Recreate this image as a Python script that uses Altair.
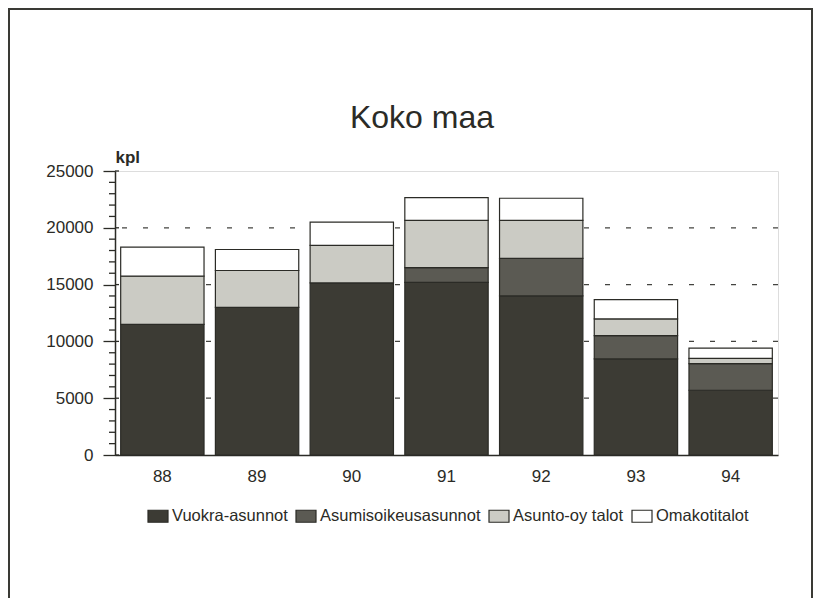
import altair as alt
import pandas as pd

years = ["88", "89", "90", "91", "92", "93", "94"]
series = ["Vuokra-asunnot", "Asumisoikeusasunnot", "Asunto-oy talot", "Omakotitalot"]
vuokra = [11500, 13000, 15150, 15200, 14000, 8470, 5700]
asumis = [0, 0, 0, 1300, 3300, 2030, 2350]
asunto = [4240, 3240, 3300, 4150, 3350, 1480, 450]
omakoti = [2560, 1850, 2050, 2000, 1950, 1700, 900]
colors = ["#3c3b34", "#5b5a53", "#cbcbc4", "#ffffff"]
title_text = ["Koko maa"]

grid_values = [5000, 10000, 15000, 20000]
major_values = [0, 5000, 10000, 15000, 20000, 25000]
minor_values = [v for v in range(1000, 25000, 1000) if v % 5000 != 0]

FONT = "Liberation Sans"
INK = "#2b2b26"

rows = []
for si, (name, vals) in enumerate(zip(series, [vuokra, asumis, asunto, omakoti])):
    for y, v in zip(years, vals):
        if v > 0:
            rows.append({"vuosi": y, "sarja": name, "kpl": v, "jarj": si})
df = pd.DataFrame(rows)

yscale = alt.Scale(domain=[0, 25000], nice=False, zero=True)

bars = alt.Chart(df).mark_bar(stroke=INK, strokeWidth=1.2).encode(
    x=alt.X("vuosi:N", sort=years,
            scale=alt.Scale(paddingInner=0.12, paddingOuter=0.06),
            axis=alt.Axis(title=None, labelAngle=0, ticks=False, tickSize=0,
                          labelPadding=13, labelFontSize=17, labelFont=FONT,
                          labelColor=INK, domainColor=INK, domainWidth=1.5)),
    y=alt.Y("kpl:Q", stack="zero", scale=yscale,
            axis=alt.Axis(values=major_values, title="kpl", titleAngle=0,
                          titleAlign="left", titleBaseline="alphabetic",
                          titleX=0, titleY=-9, titleFont=FONT, titleFontSize=17,
                          titleFontWeight="bold", titleColor=INK,
                          grid=False, tickSize=12, tickColor=INK, tickWidth=1.3,
                          labelPadding=10, labelFontSize=17, labelFont=FONT,
                          labelColor=INK, domainColor=INK, domainWidth=1.5,
                          format="d")),
    color=alt.Color("sarja:N", scale=alt.Scale(domain=series, range=colors),
                    legend=alt.Legend(title=None, orient="none", legendX=32, legendY=334,
                                      direction="horizontal",
                                      symbolType="M-1,-0.6H1V0.6H-1Z", symbolSize=400,
                                      symbolStrokeColor=INK, symbolStrokeWidth=1.2,
                                      labelFont=FONT, labelFontSize=16.5, labelColor=INK,
                                      labelLimit=400, labelOffset=3, columnPadding=5)),
    order=alt.Order("jarj:Q", sort="ascending"),
)

grid = alt.Chart(pd.DataFrame({"kpl": grid_values})).mark_rule(
    color="#444440", strokeDash=[5, 16], strokeWidth=1.3
).encode(y=alt.Y("kpl:Q", scale=yscale))

minor = alt.Chart(pd.DataFrame({"kpl": minor_values})).mark_rule(
    color=INK, strokeWidth=1.3
).encode(y=alt.Y("kpl:Q", scale=yscale), x=alt.value(-6), x2=alt.value(0))

major_in = alt.Chart(pd.DataFrame({"kpl": major_values})).mark_rule(
    color=INK, strokeWidth=1.3
).encode(y=alt.Y("kpl:Q", scale=yscale), x=alt.value(0), x2=alt.value(4))

frame = alt.Chart(pd.DataFrame({"a": [0]})).mark_rect(
    fillOpacity=0, stroke="#3a3a35", strokeWidth=2
).encode(x=alt.value(-106), x2=alt.value(697), y=alt.value(-162), y2=alt.value(470))

title = alt.Chart(pd.DataFrame({"t": title_text})).mark_text(
    font=FONT, fontSize=32, color=INK, align="center", baseline="alphabetic"
).encode(text="t:N", x=alt.value(307), y=alt.value(-43))

chart = alt.layer(frame, grid, bars, minor, major_in, title).properties(
    width=663, height=284,
    autosize=alt.AutoSizeParams(type="none"),
    padding={"left": 107, "top": 163, "right": 37, "bottom": 143},
).configure_view(stroke=INK, strokeWidth=1.5).configure(background="white")

chart.save("out.html", embed_options={"renderer": "svg", "actions": False})
